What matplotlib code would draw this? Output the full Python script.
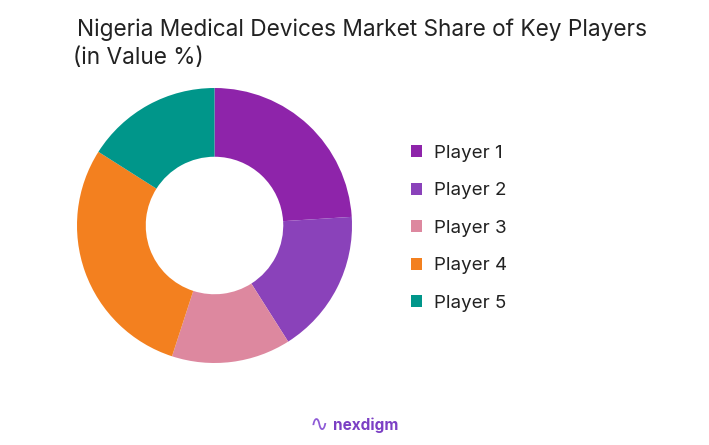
import matplotlib.pyplot as plt
from matplotlib.patches import Patch

plt.rcParams['font.family'] = ['Inter', 'DejaVu Sans']

players = ["Player 1", "Player 2", "Player 3", "Player 4", "Player 5"]
shares = [24, 17, 14, 29, 16]
colors = ["#8E24AA", "#8A42BA", "#DD889F", "#F3801F", "#00968A"]

fig = plt.figure(figsize=(7.09, 4.45), dpi=100)
ax = fig.add_axes([77 / 709, 1 - 363 / 445, 275 / 709, 275 / 445])
ax.pie(shares, colors=colors, startangle=90, counterclock=False,
       wedgeprops=dict(width=0.5, linewidth=0))
ax.set_xlim(-1, 1)
ax.set_ylim(-1, 1)
ax.set_aspect("equal")

handles = [Patch(facecolor=c, label=p) for c, p in zip(colors, players)]
fig.legend(handles=handles, loc="upper left", bbox_to_anchor=(394 / 709, 1 - 128 / 445),
           frameon=False, fontsize=13.5, handlelength=0.6, handleheight=0.6,
           handletextpad=0.65, labelspacing=1.09, labelcolor="#222222")

fig.text(77 / 709, 1 - 30 / 445, "Nigeria Medical Devices Market Share of Key Players",
         fontsize=16.3, color="#222222", va="center", ha="left")
fig.text(73 / 709, 1 - 58 / 445, "(in Value %)",
         fontsize=16.3, color="#222222", va="center", ha="left")

fig.text(366 / 709, 1 - 425 / 445, "nexdigm", fontsize=11, color="#7B3FC4",
         fontweight="bold", va="center", ha="center")
fig.text(319 / 709, 1 - 425 / 445, "\u223f", fontsize=16, color="#8E5BD6",
         va="center", ha="center", family="DejaVu Sans")

fig.savefig("out.png", dpi=100, facecolor="white")
